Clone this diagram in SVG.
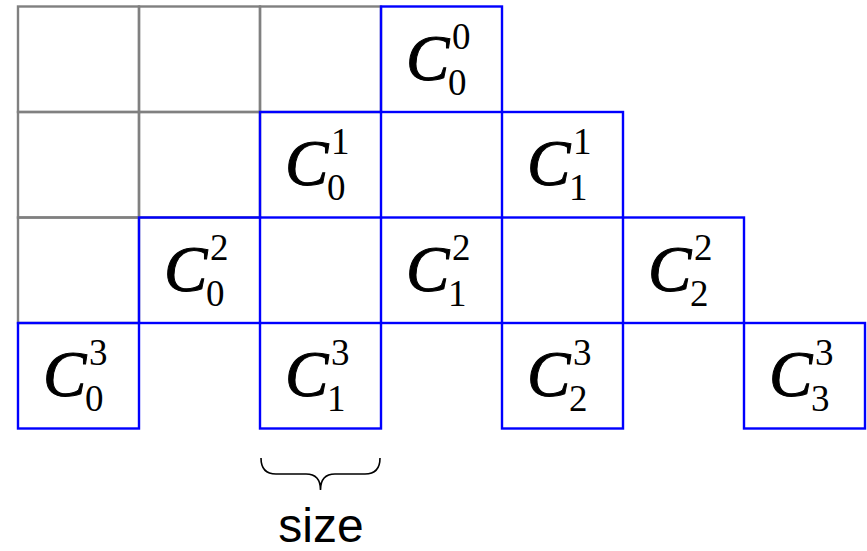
<svg xmlns="http://www.w3.org/2000/svg" width="867" height="551" viewBox="0 0 867 551">
<style>
.g{fill:none;stroke:#808080;stroke-width:2.4}
.b{fill:none;stroke:#0000ff;stroke-width:2.4}
.c{font-family:"Liberation Serif",serif;font-style:italic;font-size:65px;fill:#000;stroke:#000;stroke-width:1}
.s{font-family:"Liberation Serif",serif;font-size:37px;fill:#000}
.lbl{font-family:"Liberation Sans",Arial,sans-serif;font-size:48px;fill:#000}
</style>
<rect width="867" height="551" fill="#fff"/>
<g id="grid">
<rect class="g" x="18" y="6.5" width="121" height="105.5"/>
<rect class="g" x="139" y="6.5" width="121" height="105.5"/>
<rect class="g" x="260" y="6.5" width="121" height="105.5"/>
<rect class="g" x="18" y="112" width="121" height="105.5"/>
<rect class="g" x="139" y="112" width="121" height="105.5"/>
<rect class="g" x="18" y="217.5" width="121" height="105.5"/>
</g>
<g id="C00" transform="translate(381,6.5)"><rect class="b" width="121" height="105.5"/><text class="c" x="25" y="73">C</text><text class="s" x="71" y="42">0</text><text class="s" x="67" y="88">0</text></g>
<g id="C01" transform="translate(260,112)"><rect class="b" width="121" height="105.5"/><text class="c" x="25" y="73">C</text><text class="s" x="71" y="42">1</text><text class="s" x="67" y="88">0</text></g>
<g id="C11" transform="translate(502,112)"><rect class="b" width="121" height="105.5"/><text class="c" x="25" y="73">C</text><text class="s" x="71" y="42">1</text><text class="s" x="67" y="88">1</text></g>
<g id="C02" transform="translate(139,217.5)"><rect class="b" width="121" height="105.5"/><text class="c" x="25" y="73">C</text><text class="s" x="71" y="42">2</text><text class="s" x="67" y="88">0</text></g>
<g id="C12" transform="translate(381,217.5)"><rect class="b" width="121" height="105.5"/><text class="c" x="25" y="73">C</text><text class="s" x="71" y="42">2</text><text class="s" x="67" y="88">1</text></g>
<g id="C22" transform="translate(623,217.5)"><rect class="b" width="121" height="105.5"/><text class="c" x="25" y="73">C</text><text class="s" x="71" y="42">2</text><text class="s" x="67" y="88">2</text></g>
<g id="C03" transform="translate(18,323)"><rect class="b" width="121" height="105.5"/><text class="c" x="25" y="73">C</text><text class="s" x="71" y="42">3</text><text class="s" x="67" y="88">0</text></g>
<g id="C13" transform="translate(260,323)"><rect class="b" width="121" height="105.5"/><text class="c" x="25" y="73">C</text><text class="s" x="71" y="42">3</text><text class="s" x="67" y="88">1</text></g>
<g id="C23" transform="translate(502,323)"><rect class="b" width="121" height="105.5"/><text class="c" x="25" y="73">C</text><text class="s" x="71" y="42">3</text><text class="s" x="67" y="88">2</text></g>
<g id="C33" transform="translate(744,323)"><rect class="b" width="121" height="105.5"/><text class="c" x="25" y="73">C</text><text class="s" x="71" y="42">3</text><text class="s" x="67" y="88">3</text></g>
<g id="brace">
<path d="M261,458 Q261,474 276,474 L306,474 Q320.5,474 320.5,490 Q320.5,474 335,474 L365,474 Q380,474 380,458" fill="none" stroke="#000" stroke-width="1.6"/>
<text class="lbl" x="321" y="542" text-anchor="middle">size</text>
</g>
</svg>
